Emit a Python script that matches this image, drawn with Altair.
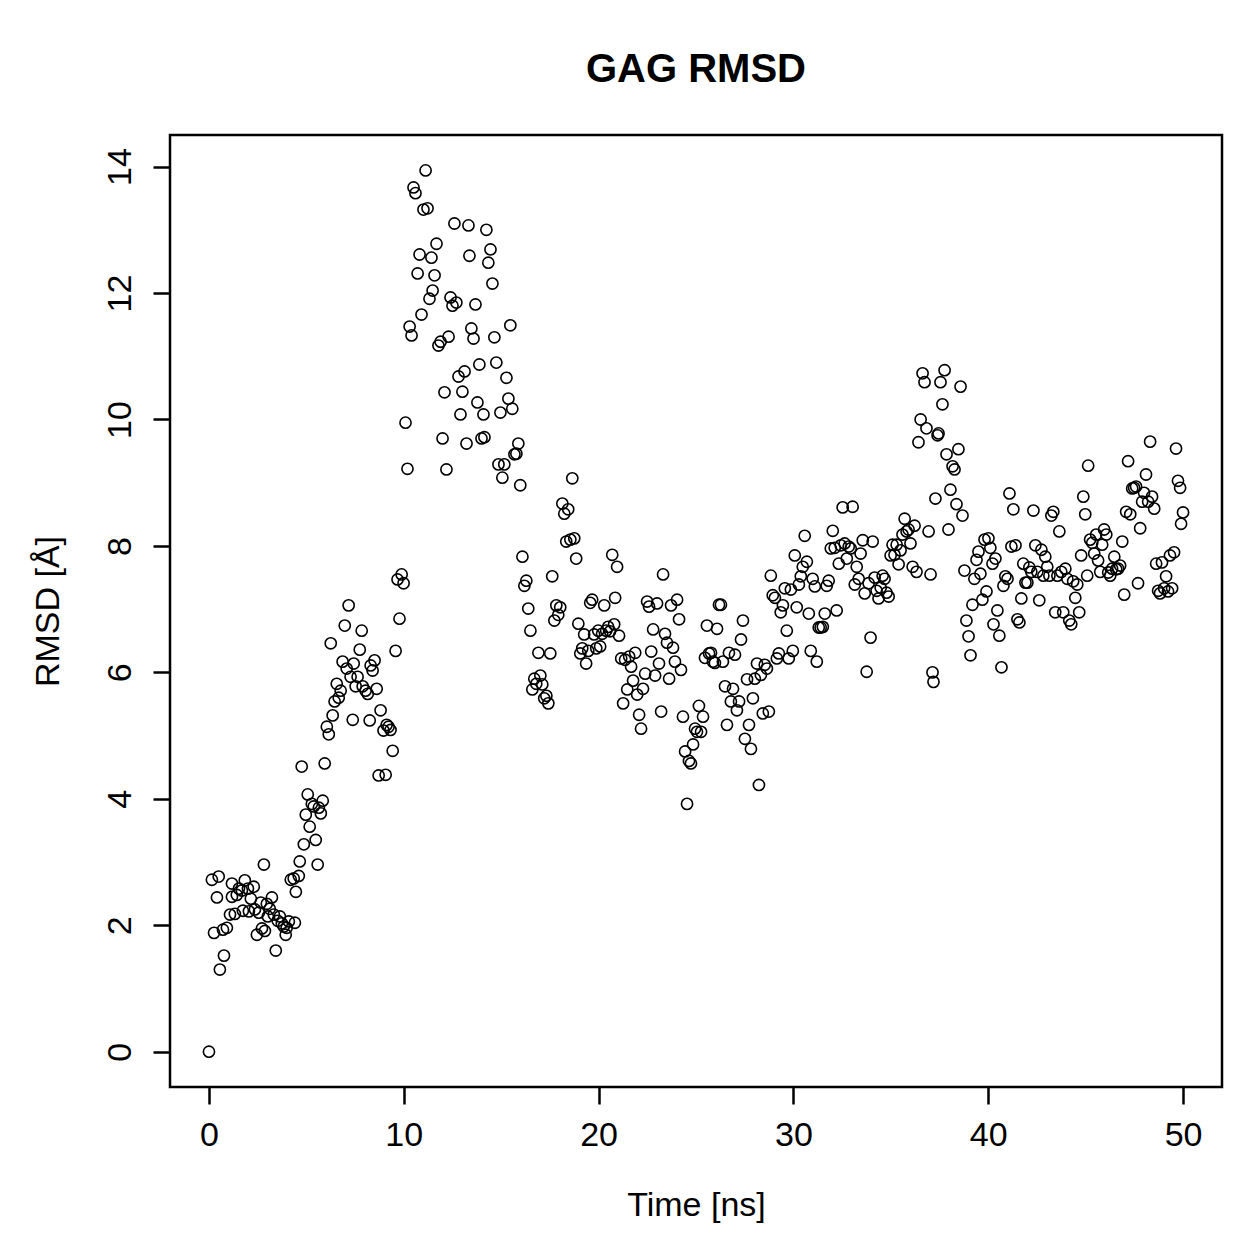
import altair as alt
import pandas as pd

time_ns = [
    0.0, 0.15, 0.26, 0.41, 0.5, 0.56, 0.77, 0.72, 0.92, 1.08, 1.18, 1.18, 1.33, 1.43, 1.54, 1.69, 1.74, 1.84, 2.0, 2.05,
    2.15, 2.3, 2.36, 2.46, 2.56, 2.66, 2.72, 2.82, 2.87, 2.97, 3.02, 3.12, 3.23, 3.33, 3.43, 3.53, 3.64, 3.74, 3.84, 3.94,
    3.99, 4.1, 4.2, 4.35, 4.41, 4.46, 4.61, 4.66, 4.76, 4.87, 4.97, 5.07, 5.17, 5.28, 5.38, 5.48, 5.58, 5.64, 5.74, 5.84,
    5.94, 6.05, 6.15, 6.25, 6.35, 6.45, 6.56, 6.66, 6.76, 6.86, 6.97, 7.07, 7.17, 7.27, 7.38, 7.43, 7.53, 7.63, 7.74, 7.84,
    7.89, 8.04, 8.15, 8.25, 8.3, 8.4, 8.5, 8.61, 8.71, 8.81, 8.96, 9.07, 9.12, 9.22, 9.32, 9.43, 9.58, 9.68, 9.78, 9.89,
    9.99, 10.09, 10.19, 10.3, 10.4, 10.5, 10.6, 10.71, 10.81, 10.91, 11.01, 11.12, 11.22, 11.32, 11.42, 11.48, 11.58, 11.68, 11.78, 11.89,
    11.99, 12.09, 12.19, 12.3, 12.4, 12.5, 12.6, 12.7, 12.81, 12.91, 13.01, 13.12, 13.22, 13.32, 13.37, 13.47, 13.58, 13.68, 13.78, 13.88,
    13.99, 14.09, 14.14, 14.24, 14.34, 14.45, 14.55, 14.65, 14.75, 14.86, 14.96, 15.06, 15.16, 15.27, 15.37, 15.47, 15.57, 15.68, 15.78, 15.88,
    15.98, 16.09, 16.19, 16.29, 16.39, 16.5, 16.6, 16.7, 16.8, 16.91, 17.01, 17.11, 17.21, 17.32, 17.42, 17.52, 17.62, 17.73, 17.83, 17.93,
    18.03, 18.14, 18.24, 18.34, 18.44, 18.55, 18.65, 18.75, 18.85, 18.96, 19.06, 19.16, 19.26, 19.36, 19.47, 19.57, 19.67, 19.77, 19.88, 19.98,
    20.08, 20.18, 20.29, 20.39, 20.49, 20.59, 20.7, 20.8, 20.85, 20.95, 21.05, 21.16, 21.26, 21.36, 21.47, 21.57, 21.67, 21.77, 21.88, 21.98,
    22.08, 22.18, 22.28, 22.39, 22.49, 22.59, 22.7, 22.8, 22.9, 23.0, 23.1, 23.21, 23.31, 23.41, 23.51, 23.62, 23.72, 23.82, 23.92, 24.03,
    24.13, 24.23, 24.33, 24.44, 24.54, 24.64, 24.74, 24.85, 24.95, 25.05, 25.15, 25.26, 25.36, 25.46, 25.56, 25.67, 25.77, 25.87, 25.97, 26.08,
    26.18, 26.28, 26.38, 26.49, 26.59, 26.69, 26.79, 26.9, 27.0, 27.1, 27.21, 27.31, 27.41, 27.51, 27.62, 27.72, 27.82, 27.92, 28.02, 28.13,
    28.23, 28.33, 28.43, 28.53, 28.64, 28.74, 28.84, 28.94, 29.05, 29.15, 29.25, 29.35, 29.46, 29.56, 29.66, 29.76, 29.87, 29.97, 30.07, 30.17,
    30.28, 30.38, 30.48, 30.58, 30.69, 30.79, 30.89, 30.99, 31.1, 31.2, 31.3, 31.4, 31.51, 31.61, 31.71, 31.81, 31.92, 32.02, 32.12, 32.22,
    32.33, 32.43, 32.53, 32.63, 32.74, 32.84, 32.94, 33.04, 33.15, 33.25, 33.35, 33.45, 33.56, 33.66, 33.76, 33.86, 33.96, 34.07, 34.17, 34.27,
    34.37, 34.48, 34.58, 34.68, 34.78, 34.89, 34.99, 35.09, 35.19, 35.3, 35.4, 35.5, 35.6, 35.71, 35.81, 35.91, 36.01, 36.12, 36.22, 36.32,
    36.42, 36.53, 36.63, 36.73, 36.83, 36.94, 37.04, 37.14, 37.19, 37.29, 37.4, 37.45, 37.55, 37.65, 37.76, 37.86, 37.96, 38.06, 38.17, 38.27,
    38.37, 38.47, 38.58, 38.68, 38.78, 38.88, 38.99, 39.09, 39.19, 39.29, 39.4, 39.5, 39.6, 39.7, 39.81, 39.91, 40.01, 40.11, 40.22, 40.27,
    40.37, 40.47, 40.57, 40.68, 40.78, 40.88, 40.99, 41.09, 41.19, 41.29, 41.4, 41.5, 41.6, 41.7, 41.8, 41.91, 42.01, 42.11, 42.21, 42.32,
    42.42, 42.52, 42.62, 42.73, 42.83, 42.93, 43.03, 43.14, 43.24, 43.34, 43.44, 43.55, 43.65, 43.75, 43.85, 43.96, 44.06, 44.16, 44.26, 44.36,
    44.47, 44.57, 44.67, 44.77, 44.88, 44.98, 45.08, 45.13, 45.23, 45.34, 45.44, 45.54, 45.64, 45.75, 45.85, 45.95, 46.06, 46.16, 46.26, 46.36,
    46.47, 46.57, 46.67, 46.77, 46.88, 46.98, 47.08, 47.18, 47.29, 47.39, 47.49, 47.59, 47.69, 47.8, 47.9, 48.0, 48.1, 48.21, 48.31, 48.41,
    48.52, 48.62, 48.72, 48.82, 48.92, 49.03, 49.13, 49.23, 49.33, 49.44, 49.54, 49.64, 49.74, 49.85, 49.9, 50.0,
]

rmsd = [
    0.0, 2.72, 1.88, 2.44, 2.77, 1.30, 1.52, 1.93, 1.96, 2.17, 2.66, 2.45, 2.18, 2.48, 2.58, 2.55, 2.23, 2.71, 2.58, 2.22,
    2.42, 2.61, 2.25, 1.85, 2.2, 2.36, 1.95, 2.96, 1.91, 2.34, 2.14, 2.26, 2.44, 2.17, 1.60, 2.07, 2.14, 2.03, 1.98, 1.85,
    1.96, 2.06, 2.72, 2.74, 2.04, 2.53, 2.78, 3.01, 4.51, 3.28, 3.75, 4.07, 3.56, 3.92, 3.88, 3.35, 2.96, 3.86, 3.77, 3.97,
    4.56, 5.14, 5.02, 6.46, 5.32, 5.54, 5.82, 5.6, 5.71, 6.17, 6.74, 6.06, 7.06, 5.93, 5.25, 6.14, 5.78, 5.93, 6.36, 6.66,
    5.78, 5.71, 5.66, 5.24, 6.11, 6.03, 6.19, 5.74, 4.37, 5.40, 5.08, 4.38, 5.17, 5.14, 5.09, 4.76, 6.34, 7.47, 6.85, 7.55,
    7.41, 9.95, 9.22, 11.47, 11.33, 13.67, 13.58, 12.31, 12.61, 11.66, 13.32, 13.94, 13.34, 11.91, 12.56, 12.04, 12.28, 12.78, 11.17, 11.23,
    9.7, 10.43, 9.21, 11.31, 11.93, 11.8, 13.1, 11.85, 10.68, 10.08, 10.44, 10.76, 9.62, 13.07, 12.59, 11.44, 11.28, 11.82, 10.27, 10.87,
    9.7, 10.08, 9.72, 13.0, 12.48, 12.69, 12.15, 11.3, 10.9, 9.29, 10.11, 9.08, 9.29, 10.66, 10.33, 11.49, 10.17, 9.45, 9.46, 9.62,
    8.96, 7.83, 7.37, 7.45, 7.01, 6.66, 5.73, 5.9, 5.82, 6.31, 5.95, 5.81, 5.59, 5.63, 5.51, 6.3, 7.52, 6.82, 7.06, 6.91,
    7.03, 8.67, 8.51, 8.07, 8.58, 8.1, 9.07, 8.12, 7.8, 6.77, 6.3, 6.38, 6.6, 6.14, 6.34, 7.1, 7.15, 6.6, 6.38, 6.66,
    6.41, 6.61, 7.06, 6.66, 6.72, 6.65, 7.86, 6.76, 7.18, 7.67, 6.58, 6.22, 5.51, 6.2, 5.73, 6.25, 6.09, 5.87, 6.31, 5.65,
    5.33, 5.11, 5.74, 5.98, 7.12, 7.04, 6.33, 6.68, 5.95, 7.09, 6.14, 5.38, 7.55, 6.61, 6.47, 5.9, 7.06, 6.39, 6.17, 7.15,
    6.84, 6.04, 5.3, 4.75, 3.92, 4.6, 4.56, 4.86, 5.11, 5.06, 5.47, 5.06, 5.3, 6.23, 6.74, 6.3, 6.31, 6.17, 6.15, 6.69,
    7.07, 7.07, 6.17, 5.78, 5.17, 6.31, 5.54, 5.74, 6.28, 5.4, 5.54, 6.52, 6.82, 4.95, 5.89, 5.17, 4.79, 5.59, 5.9, 6.14,
    4.22, 5.96, 5.35, 6.12, 6.06, 5.38, 7.53, 7.22, 7.18, 6.22, 6.3, 6.95, 7.06, 7.33, 6.66, 6.22, 7.31, 6.34, 7.85, 7.03,
    7.39, 7.52, 7.67, 8.16, 7.75, 6.93, 6.34, 7.48, 7.36, 6.17, 6.71, 6.71, 6.72, 6.93, 7.37, 7.45, 7.96, 8.24, 7.97, 6.98,
    7.72, 8.01, 8.61, 8.04, 7.8, 7.99, 7.96, 8.62, 7.39, 7.67, 7.48, 7.88, 8.09, 7.25, 6.01, 7.41, 6.55, 8.07, 7.5, 7.29,
    7.17, 7.34, 7.53, 7.48, 7.26, 7.2, 7.85, 8.02, 7.86, 8.02, 7.71, 7.93, 8.18, 8.43, 8.23, 8.26, 8.04, 7.67, 8.32, 7.59,
    9.64, 10.0, 10.73, 10.59, 9.86, 8.23, 7.55, 6.0, 5.85, 8.75, 9.75, 9.78, 10.59, 10.24, 10.78, 9.45, 8.26, 8.89, 9.26, 9.21,
    8.66, 9.53, 10.52, 8.48, 7.61, 6.82, 6.57, 6.27, 7.07, 7.48, 7.78, 7.91, 7.56, 7.15, 8.1, 7.28, 8.12, 7.97, 7.72, 6.76,
    7.8, 6.98, 6.58, 6.08, 7.37, 7.52, 7.48, 8.83, 7.99, 8.58, 8.01, 6.84, 6.79, 7.17, 7.72, 7.42, 7.42, 7.66, 7.59, 8.56,
    8.01, 7.59, 7.14, 7.94, 7.53, 7.83, 7.67, 7.53, 8.48, 8.54, 6.95, 7.53, 8.23, 7.59, 6.95, 7.64, 7.48, 6.82, 6.76, 7.44,
    7.18, 7.39, 6.95, 7.85, 8.78, 8.5, 7.53, 9.27, 8.1, 8.05, 7.88, 8.18, 7.77, 7.59, 8.02, 8.26, 8.18, 7.58, 7.53, 7.64,
    7.83, 7.63, 7.64, 7.69, 8.07, 7.23, 8.54, 9.34, 8.5, 8.91, 8.92, 8.94, 7.41, 8.28, 8.7, 8.84, 9.13, 8.7, 9.65, 8.78,
    8.59, 7.72, 7.29, 7.25, 7.74, 7.33, 7.52, 7.28, 7.85, 7.33, 7.9, 9.54, 9.03, 8.92, 8.35, 8.53,
]

x_ticks = [0, 10, 20, 30, 40, 50]
y_ticks = [0, 2, 4, 6, 8, 10, 12, 14]

df = pd.DataFrame({"t": time_ns, "r": rmsd})

FONT = "Liberation Sans"

chart = (
    alt.Chart(df)
    .mark_point(shape="circle", filled=False, color="black", strokeWidth=1.6, size=125, opacity=1)
    .encode(
        x=alt.X(
            "t:Q",
            scale=alt.Scale(domain=[-2, 52], nice=False, zero=False),
            axis=alt.Axis(
                values=x_ticks, title="Time [ns]", grid=False, domain=False,
                tickSize=17, tickWidth=2.5, tickColor="black",
                labelFont=FONT, labelFontSize=34, labelColor="black", labelPadding=14,
                titleFont=FONT, titleFontSize=34, titleFontWeight="normal", titleColor="black",
                titlePadding=36,
            ),
        ),
        y=alt.Y(
            "r:Q",
            scale=alt.Scale(domain=[-0.558, 14.5], nice=False, zero=False),
            axis=alt.Axis(
                values=y_ticks, title="RMSD [Å]", grid=False, domain=False,
                tickSize=17, tickWidth=2.5, tickColor="black",
                labelFont=FONT, labelFontSize=34, labelColor="black", labelPadding=16,
                labelAngle=270, labelAlign="center", labelBaseline="bottom",
                titleFont=FONT, titleFontSize=34, titleFontWeight="normal", titleColor="black",
                titlePadding=38,
            ),
        ),
    )
    .properties(
        width=1052,
        height=952,
        title=alt.TitleParams(
            "GAG RMSD", font=FONT, fontSize=40, fontWeight="bold", color="black",
            anchor="middle", offset=45,
        ),
        autosize=alt.AutoSizeParams(type="none"),
        padding={"left": 170, "top": 135, "right": 37, "bottom": 172},
    )
    .configure(background="white")
    .configure_view(stroke="black", strokeWidth=2.5)
)

chart.save("out.html", embed_options={"renderer": "svg", "actions": False})
